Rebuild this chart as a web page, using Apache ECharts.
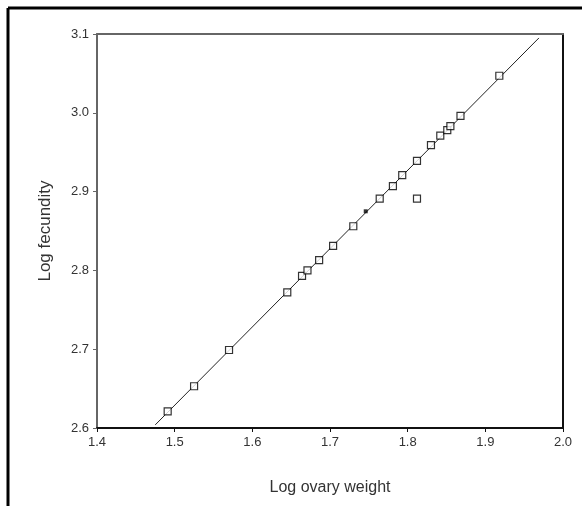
<!DOCTYPE html>
<html>
<head>
<meta charset="utf-8">
<script src="https://cdn.jsdelivr.net/npm/echarts@6/dist/echarts.min.js"></script>
<style>
  html, body { margin: 0; padding: 0; background: #fff; }
  #chart { width: 582px; height: 506px; }
</style>
</head>
<body>
<div id="chart"></div>
<script>
// observed points (log ovary weight, log fecundity)
const ovaryWeight = [1.491, 1.525, 1.570, 1.645, 1.664, 1.671, 1.686, 1.704, 1.730, 1.764, 1.781, 1.793, 1.812, 1.830, 1.842, 1.851, 1.855, 1.868, 1.918, 1.812];
const fecundity   = [2.621, 2.653, 2.699, 2.772, 2.793, 2.800, 2.813, 2.831, 2.856, 2.891, 2.907, 2.921, 2.939, 2.959, 2.971, 2.978, 2.983, 2.996, 3.047, 2.891];
// small filled dot on the line
const dotX = [1.746];
const dotY = [2.875];
// fitted line end points
const fitX = [1.475, 1.969];
const fitY = [2.604, 3.095];

const xTicks = [1.4, 1.5, 1.6, 1.7, 1.8, 1.9, 2.0];
const yTicks = [2.6, 2.7, 2.8, 2.9, 3.0, 3.1];

const toPairs = (xs, ys) => xs.map((x, i) => [x, ys[i]]);
const font = 'Liberation Sans, Arial, sans-serif';

const chart = echarts.init(document.getElementById('chart'));
chart.setOption({
    animation: false,
    grid: { left: 97, right: 19, top: 34, bottom: 78 },
    graphic: [
        // outer frame (top and left only)
        { type: 'line', shape: { x1: 8, y1: 8, x2: 582, y2: 8 }, style: { stroke: '#000', lineWidth: 3 } },
        { type: 'line', shape: { x1: 8, y1: 8, x2: 8, y2: 506 }, style: { stroke: '#000', lineWidth: 3 } }
    ],
    xAxis: [
        {
            type: 'value',
            position: 'bottom',
            min: xTicks[0],
            max: xTicks[xTicks.length - 1],
            interval: 0.1,
            name: 'Log ovary weight',
            nameLocation: 'middle',
            nameGap: 52,
            nameTextStyle: { color: '#333', fontSize: 16, fontFamily: font },
            axisLine: { lineStyle: { color: '#111', width: 2 } },
            axisTick: { show: true, inside: false, length: 4, lineStyle: { color: '#111' } },
            axisLabel: { color: '#333', fontSize: 13, fontFamily: font, margin: 8, formatter: v => v.toFixed(1) },
            splitLine: { show: false }
        },
        {
            type: 'value',
            position: 'top',
            min: xTicks[0],
            max: xTicks[xTicks.length - 1],
            axisLine: { lineStyle: { color: '#666', width: 2 } },
            axisTick: { show: false },
            axisLabel: { show: false },
            splitLine: { show: false }
        }
    ],
    yAxis: [
        {
            type: 'value',
            position: 'left',
            min: yTicks[0],
            max: yTicks[yTicks.length - 1],
            interval: 0.1,
            name: 'Log fecundity',
            nameLocation: 'middle',
            nameGap: 43,
            nameTextStyle: { color: '#333', fontSize: 17, fontFamily: font },
            axisLine: { lineStyle: { color: '#666', width: 2 } },
            axisTick: { show: true, inside: false, length: 4, lineStyle: { color: '#666' } },
            axisLabel: { color: '#333', fontSize: 13, fontFamily: font, margin: 8, formatter: v => v.toFixed(1) },
            splitLine: { show: false }
        },
        {
            type: 'value',
            position: 'right',
            min: yTicks[0],
            max: yTicks[yTicks.length - 1],
            axisLine: { lineStyle: { color: '#111', width: 2 } },
            axisTick: { show: false },
            axisLabel: { show: false },
            splitLine: { show: false }
        }
    ],
    series: [
        {
            type: 'line',
            data: toPairs(fitX, fitY),
            showSymbol: false,
            lineStyle: { color: '#222', width: 1 },
            z: 2
        },
        {
            type: 'scatter',
            data: toPairs(ovaryWeight, fecundity),
            symbol: 'rect',
            symbolSize: 7,
            itemStyle: { color: '#fff', borderColor: '#000', borderWidth: 1.2 },
            z: 3
        },
        {
            type: 'scatter',
            data: toPairs(dotX, dotY),
            symbol: 'rect',
            symbolSize: 4,
            itemStyle: { color: '#000' },
            z: 3
        }
    ]
});
</script>
</body>
</html>
